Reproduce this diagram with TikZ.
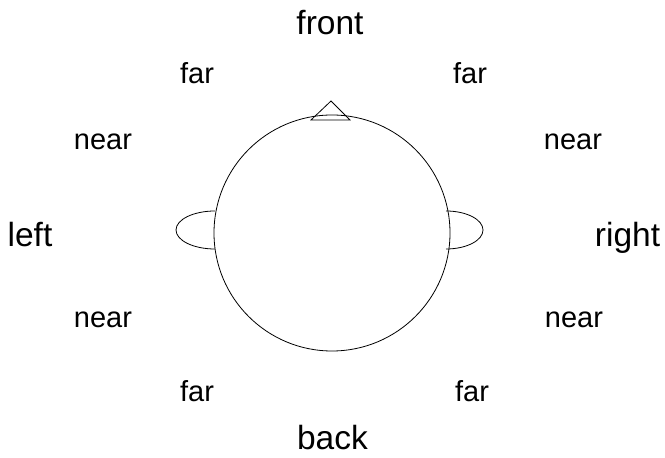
\documentclass[tikz,border=0pt]{standalone}
\usepackage{fontspec}
\setmainfont{Liberation Sans}
\begin{document}
\begin{tikzpicture}[x=1bp,y=1bp,
  big/.style={anchor=base,inner sep=0pt,font=\fontsize{33.5bp}{36bp}\selectfont},
  small/.style={anchor=base,inner sep=0pt,font=\fontsize{29bp}{32bp}\selectfont},
  outline/.style={draw=black,line width=0.8bp}]
\useasboundingbox (0,0) rectangle (665,458);
% head
\draw[outline] (332,225) circle[radius=118];
% nose
\draw[outline,line join=miter] (311,338) -- (331,357) -- (350,338) -- cycle;
% ears
\draw[outline] (215,247) arc[start angle=90,end angle=270,x radius=39,y radius=19];
\draw[outline] (446,247) arc[start angle=90,end angle=-90,x radius=37,y radius=19];
% labels
\node[big] (front) at (330,423.7) {front};
\node[big] (back) at (332.5,8) {back};
\node[big] (left) at (30,211) {left};
\node[big] (right) at (627.5,211) {right};
\node[small] (farUL) at (197,374.7) {far};
\node[small] (farUR) at (470,374.7) {far};
\node[small] (nearUL) at (103,308.7) {near};
\node[small] (nearUR) at (573,308.7) {near};
\node[small] (nearLL) at (103,130.7) {near};
\node[small] (nearLR) at (574,130.7) {near};
\node[small] (farLL) at (197,56.3) {far};
\node[small] (farLR) at (472,56.3) {far};
\end{tikzpicture}
\end{document}
